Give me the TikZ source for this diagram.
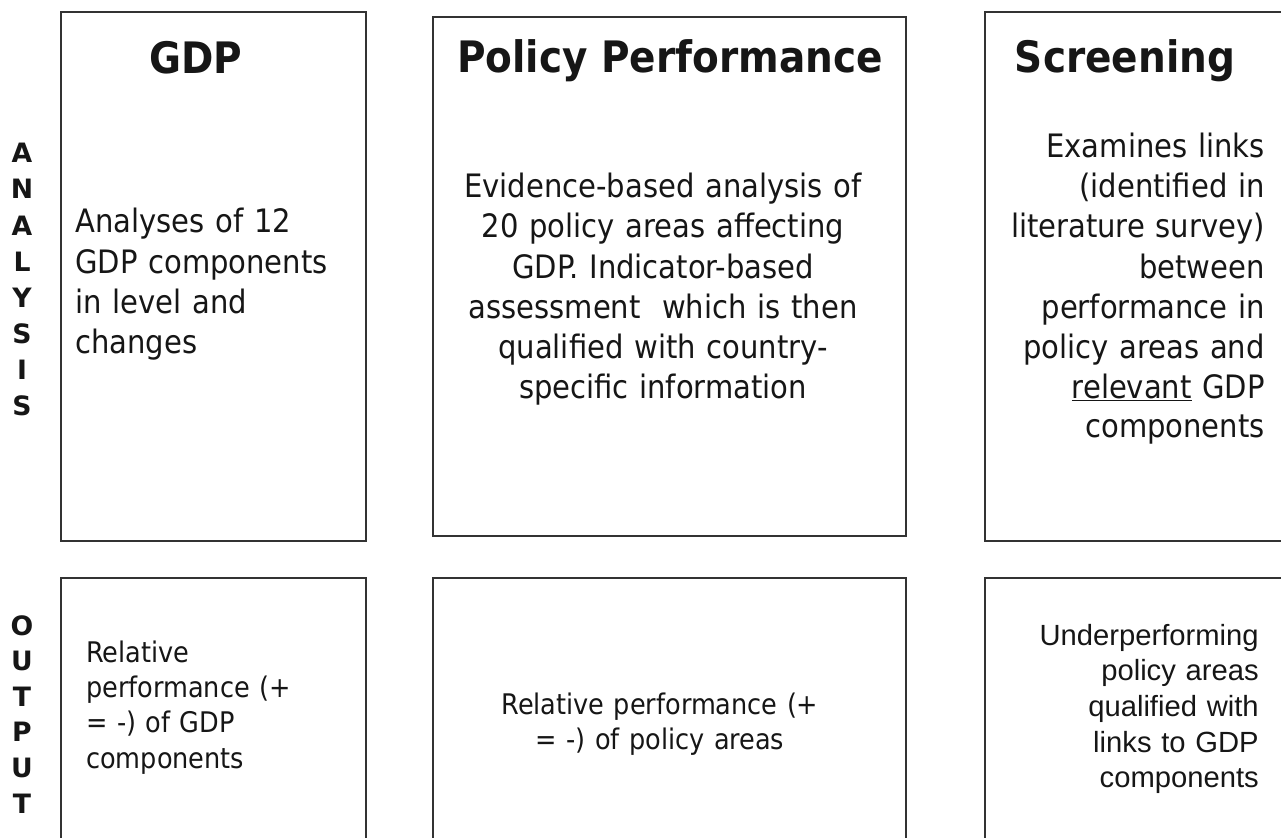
\documentclass[tikz,border=0pt]{standalone}
\usepackage{fontspec}
\newfontfamily\tahoma{DejaVu Sans Condensed}
\newfontfamily\heavy{DejaVu Sans}
\newfontfamily\arial{Liberation Sans}
\definecolor{ink}{HTML}{161616}
\definecolor{rule}{HTML}{333333}

\begin{document}
\begin{tikzpicture}[x=0.75pt,y=-0.75pt,
  box/.style={draw=rule,line width=1pt},
  title/.style={inner sep=0,anchor=base,text=ink,font=\tahoma\bfseries\fontsize{32.5}{39}\selectfont},
  body/.style={inner sep=0,text=ink,text width=420,font=\tahoma\fontsize{24.2}{30}\selectfont},
  small/.style={inner sep=0,text=ink,text width=360,font=\tahoma\fontsize{21.3}{26.6}\selectfont},
  side/.style={inner sep=0,anchor=base,text=ink,font=\heavy\bfseries\fontsize{20}{24}\selectfont}]

\useasboundingbox (0,0) rectangle (1281,838);
\clip (0,0) rectangle (1281,838);

% analysis row
\draw[box] (61,12) rectangle (366,541);
\draw[box] (433,17) rectangle (906,536);
\draw[box] (985,12) rectangle (1300,541);

% output row
\draw[box] (61,578) rectangle (366,860);
\draw[box] (433,578) rectangle (906,860);
\draw[box] (985,578) rectangle (1300,860);

\foreach \ch [count=\i] in {A,N,A,L,Y,S,I,S}
  \node[side] (ana\i) at (22,{163+36*(\i-1)}) {\ch};
\foreach \ch [count=\i] in {O,U,T,P,U,T}
  \node[side] (out\i) at (22,{635+35.6*(\i-1)}) {\ch};

\node[title] (gdp) at (196,74) {GDP};
\node[title] (pol) at (670,73) {Policy Performance};
\node[title] (scr) at (1125,73) {Screening};

\node[body,anchor=base west,align=left] (gdptext) at (75,233)
  {Analyses of 12\\GDP components\\in level and\\changes};
\node[body,anchor=base,align=center] (poltext) at (663,198)
  {Evidence-based analysis of\\20 policy areas affecting\\GDP. Indicator-based\\assessment\ \ which is then\\qualified with country-\\specific information};
\node[body,anchor=base east,align=right] (scrtext) at (1265,158)
  {Examines links\\(identified in\\literature survey)\\between\\performance in\\policy areas and\\\underline{relevant} GDP\\components};

\node[small,anchor=base west,align=left] (gdpout) at (86,662)
  {Relative\\performance (+\\= -) of GDP\\components};
\node[small,anchor=base,align=center] (polout) at (660,714)
  {Relative performance (+\\= -) of policy areas};
\node[small,anchor=base east,align=right,font=\arial\fontsize{21.9}{26.8}\selectfont] (scrout) at (1259,645)
  {Underperforming\\policy areas\\qualified with\hspace*{0.3em}\\links to GDP\\components};

\end{tikzpicture}
\end{document}
